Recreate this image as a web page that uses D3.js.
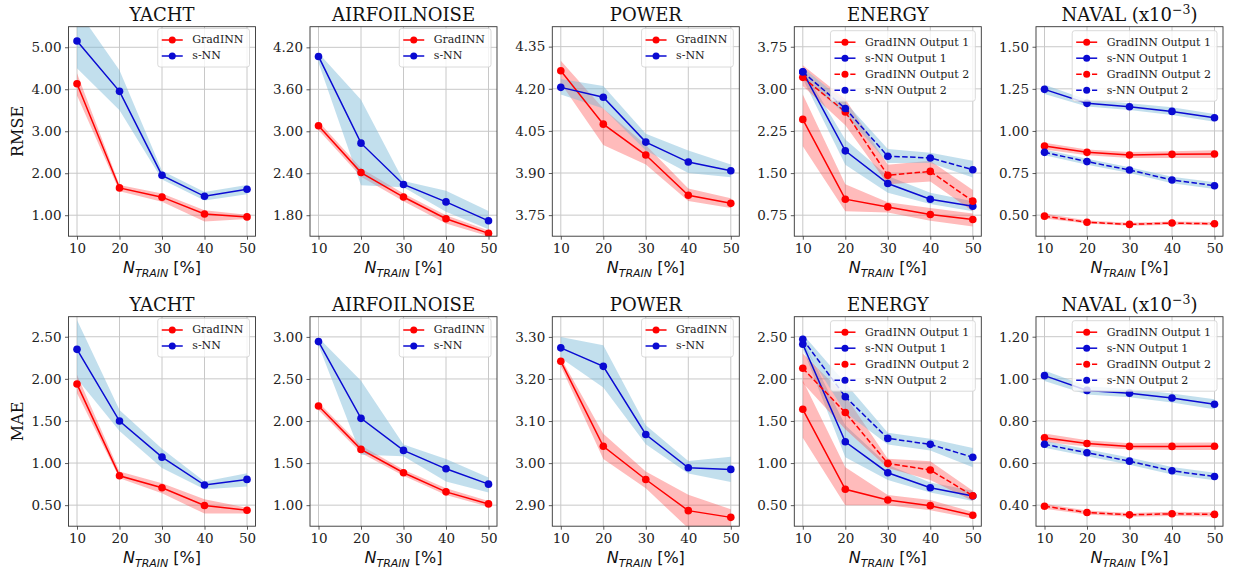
<!DOCTYPE html>
<html><head><meta charset="utf-8">
<script src="https://cdn.jsdelivr.net/npm/d3@7"></script>
<style>body{margin:0;background:#fff} svg{display:block}</style>
</head><body>
<svg id="c" width="1234" height="570"></svg>
<script>
// ---------- DATA ----------
const xValues = [10, 20, 30, 40, 50];
const datasets = ["YACHT", "AIRFOILNOISE", "POWER", "ENERGY", "NAVAL"];
const metrics = ["RMSE", "MAE"];

// RMSE ticks / domains
const rmseTicks = [[1,2,3,4,5],[1.8,2.4,3.0,3.6,4.2],[3.75,3.9,4.05,4.2,4.35],[0.75,1.5,2.25,3.0,3.75],[0.5,0.75,1.0,1.25,1.5]];
const rmseDomains = [[0.5,5.49],[1.5,4.495],[3.675,4.421],[0.376,4.107],[0.375,1.619]];
// MAE ticks / domains
const maeTicks = [[0.5,1.0,1.5,2.0,2.5],[1.0,1.5,2.0,2.5,3.0],[2.9,3.0,3.1,3.2,3.3],[0.5,1.0,1.5,2.0,2.5],[0.4,0.6,0.8,1.0,1.2]];
const maeDomains = [[0.25,2.738],[0.75,3.24],[2.85,3.348],[0.25,2.738],[0.30,1.295]];

// YACHT RMSE
const yachtRmseGrad   = [4.13,1.65,1.43,1.03,0.96];
const yachtRmseGradLo = [3.85,1.57,1.32,0.85,0.91];
const yachtRmseGradHi = [4.38,1.72,1.52,1.12,1.01];
const yachtRmseSnn    = [5.15,3.95,1.95,1.45,1.62];
const yachtRmseSnnLo  = [4.50,3.50,1.85,1.35,1.50];
const yachtRmseSnnHi  = [5.90,4.45,2.06,1.55,1.72];
// AIRFOIL RMSE
const airRmseGrad   = [3.08,2.41,2.06,1.75,1.54];
const airRmseGradLo = [3.02,2.35,2.00,1.68,1.50];
const airRmseGradHi = [3.14,2.47,2.11,1.80,1.58];
const airRmseSnn    = [4.07,2.83,2.24,1.99,1.72];
const airRmseSnnLo  = [3.98,2.23,2.20,1.85,1.60];
const airRmseSnnHi  = [4.12,3.45,2.29,2.15,1.86];
// POWER RMSE
const powRmseGrad   = [4.264,4.074,3.964,3.821,3.792];
const powRmseGradLo = [4.22,4.00,3.93,3.80,3.775];
const powRmseGradHi = [4.30,4.13,4.00,3.845,3.81];
const powRmseSnn    = [4.205,4.17,4.01,3.939,3.908];
const powRmseSnnLo  = [4.18,4.13,3.98,3.90,3.885];
const powRmseSnnHi  = [4.235,4.21,4.04,3.98,3.93];
// ENERGY RMSE
const enRmseG1 = [2.456,1.035,0.898,0.762,0.673], enRmseG1Lo = [1.98,0.82,0.80,0.65,0.55], enRmseG1Hi = [2.90,1.30,0.98,0.88,0.78];
const enRmseS1 = [3.304,1.896,1.314,1.035,0.91], enRmseS1Lo = [3.18,1.65,1.15,0.95,0.82], enRmseS1Hi = [3.36,2.10,1.45,1.15,1.00];
const enRmseG2 = [3.205,2.59,1.46,1.53,1.00],   enRmseG2Lo = [3.05,2.35,1.30,1.35,0.82], enRmseG2Hi = [3.42,2.82,1.65,1.72,1.20];
const enRmseS2 = [3.30,2.65,1.80,1.77,1.56],    enRmseS2Lo = [3.20,2.55,1.68,1.68,1.42], enRmseS2Hi = [3.38,2.76,1.93,1.86,1.72];
// NAVAL RMSE
const navRmseG1 = [0.910,0.873,0.857,0.861,0.863], navRmseG1Lo = [0.89,0.855,0.84,0.84,0.84], navRmseG1Hi = [0.93,0.89,0.875,0.88,0.885];
const navRmseS1 = [1.247,1.164,1.144,1.116,1.078], navRmseS1Lo = [1.22,1.145,1.125,1.095,1.055], navRmseS1Hi = [1.275,1.185,1.165,1.14,1.10];
const navRmseG2 = [0.494,0.458,0.445,0.453,0.449], navRmseG2Lo = [0.48,0.45,0.437,0.443,0.44], navRmseG2Hi = [0.51,0.468,0.455,0.463,0.46];
const navRmseS2 = [0.873,0.818,0.768,0.709,0.675], navRmseS2Lo = [0.855,0.80,0.75,0.69,0.655], navRmseS2Hi = [0.89,0.835,0.785,0.728,0.695];
// YACHT MAE
const yachtMaeGrad   = [1.938,0.849,0.706,0.496,0.44];
const yachtMaeGradLo = [1.83,0.82,0.64,0.40,0.40];
const yachtMaeGradHi = [2.05,0.90,0.76,0.57,0.47];
const yachtMaeSnn    = [2.35,1.499,1.07,0.739,0.806];
const yachtMaeSnnLo  = [2.00,1.38,0.94,0.69,0.72];
const yachtMaeSnnHi  = [2.70,1.63,1.17,0.78,0.88];
// AIRFOIL MAE
const airMaeGrad   = [2.179,1.663,1.385,1.158,1.015];
const airMaeGradLo = [2.13,1.62,1.35,1.12,0.98];
const airMaeGradHi = [2.22,1.71,1.42,1.20,1.05];
const airMaeSnn    = [2.944,2.032,1.651,1.432,1.25];
const airMaeSnnLo  = [2.90,1.60,1.58,1.28,1.15];
const airMaeSnnHi  = [2.99,2.48,1.72,1.55,1.33];
// POWER MAE
const powMaeGrad   = [3.242,3.04,2.961,2.887,2.871];
const powMaeGradLo = [3.23,3.01,2.94,2.845,2.845];
const powMaeGradHi = [3.25,3.07,2.98,2.925,2.89];
const powMaeSnn    = [3.274,3.23,3.068,2.989,2.985];
const powMaeSnnLo  = [3.25,3.18,3.045,2.975,2.955];
const powMaeSnnHi  = [3.30,3.28,3.09,3.005,3.015];
// ENERGY MAE
const enMaeG1 = [1.638,0.688,0.561,0.494,0.38], enMaeG1Lo = [1.30,0.50,0.50,0.44,0.34], enMaeG1Hi = [1.98,0.95,0.62,0.56,0.42];
const enMaeS1 = [2.41,1.253,0.885,0.707,0.608], enMaeS1Lo = [2.36,1.07,0.80,0.65,0.55], enMaeS1Hi = [2.46,1.45,0.98,0.77,0.67];
const enMaeG2 = [2.125,1.60,0.996,0.917,0.611], enMaeG2Lo = [1.95,1.40,0.94,0.80,0.55], enMaeG2Hi = [2.30,1.80,1.05,1.02,0.67];
const enMaeS2 = [2.47,1.787,1.293,1.222,1.068], enMaeS2Lo = [2.40,1.60,1.22,1.15,0.95], enMaeS2Hi = [2.53,1.95,1.36,1.29,1.18];
// NAVAL MAE
const navMaeG1 = [0.72,0.693,0.679,0.679,0.68],   navMaeG1Lo = [0.70,0.678,0.664,0.662,0.662], navMaeG1Hi = [0.74,0.708,0.694,0.696,0.698];
const navMaeS1 = [1.015,0.945,0.932,0.909,0.879], navMaeS1Lo = [0.99,0.925,0.912,0.888,0.855],  navMaeS1Hi = [1.04,0.965,0.952,0.93,0.903];
const navMaeG2 = [0.395,0.365,0.354,0.359,0.356], navMaeG2Lo = [0.383,0.356,0.345,0.349,0.346], navMaeG2Hi = [0.407,0.374,0.363,0.369,0.366];
const navMaeS2 = [0.689,0.649,0.609,0.563,0.536], navMaeS2Lo = [0.672,0.632,0.592,0.545,0.518], navMaeS2Hi = [0.706,0.666,0.626,0.581,0.554];

// ---------- STYLE / LAYOUT ----------
const RED = "#ff0000", BLUE = "#0a0ad2";
const BAND = { [RED]: "rgba(255,60,60,0.35)", [BLUE]: "rgba(120,185,215,0.45)" };
const colX = [68.5, 310, 552.3, 794.3, 1036];
const rowY = [26.7, 316.7];
const W = 187, H = 209.5;
const SERIF = "'DejaVu Serif', serif";

function two(g, gl, gh, s, sl, sh) {
  return [
    {name: "GradINN", color: RED, dash: null, mean: g, lo: gl, hi: gh},
    {name: "s-NN", color: BLUE, dash: null, mean: s, lo: sl, hi: sh}
  ];
}
function four(g1,g1l,g1h, s1,s1l,s1h, g2,g2l,g2h, s2,s2l,s2h) {
  return [
    {name: "GradINN Output 1", color: RED, dash: null, mean: g1, lo: g1l, hi: g1h},
    {name: "s-NN Output 1", color: BLUE, dash: null, mean: s1, lo: s1l, hi: s1h},
    {name: "GradINN Output 2", color: RED, dash: "5.5,2.4", mean: g2, lo: g2l, hi: g2h},
    {name: "s-NN Output 2", color: BLUE, dash: "5.5,2.4", mean: s2, lo: s2l, hi: s2h}
  ];
}

const seriesByPanel = [
  [
    two(yachtRmseGrad, yachtRmseGradLo, yachtRmseGradHi, yachtRmseSnn, yachtRmseSnnLo, yachtRmseSnnHi),
    two(airRmseGrad, airRmseGradLo, airRmseGradHi, airRmseSnn, airRmseSnnLo, airRmseSnnHi),
    two(powRmseGrad, powRmseGradLo, powRmseGradHi, powRmseSnn, powRmseSnnLo, powRmseSnnHi),
    four(enRmseG1,enRmseG1Lo,enRmseG1Hi, enRmseS1,enRmseS1Lo,enRmseS1Hi, enRmseG2,enRmseG2Lo,enRmseG2Hi, enRmseS2,enRmseS2Lo,enRmseS2Hi),
    four(navRmseG1,navRmseG1Lo,navRmseG1Hi, navRmseS1,navRmseS1Lo,navRmseS1Hi, navRmseG2,navRmseG2Lo,navRmseG2Hi, navRmseS2,navRmseS2Lo,navRmseS2Hi)
  ],
  [
    two(yachtMaeGrad, yachtMaeGradLo, yachtMaeGradHi, yachtMaeSnn, yachtMaeSnnLo, yachtMaeSnnHi),
    two(airMaeGrad, airMaeGradLo, airMaeGradHi, airMaeSnn, airMaeSnnLo, airMaeSnnHi),
    two(powMaeGrad, powMaeGradLo, powMaeGradHi, powMaeSnn, powMaeSnnLo, powMaeSnnHi),
    four(enMaeG1,enMaeG1Lo,enMaeG1Hi, enMaeS1,enMaeS1Lo,enMaeS1Hi, enMaeG2,enMaeG2Lo,enMaeG2Hi, enMaeS2,enMaeS2Lo,enMaeS2Hi),
    four(navMaeG1,navMaeG1Lo,navMaeG1Hi, navMaeS1,navMaeS1Lo,navMaeS1Hi, navMaeG2,navMaeG2Lo,navMaeG2Hi, navMaeS2,navMaeS2Lo,navMaeS2Hi)
  ]
];

const svg = d3.select("#c");
const x = d3.scaleLinear().domain([8, 52]).range([0, W]);

metrics.forEach((metric, r) => {
  const ticksAll = r === 0 ? rmseTicks : maeTicks;
  const domAll = r === 0 ? rmseDomains : maeDomains;
  datasets.forEach((ds, c) => {
    const series = seriesByPanel[r][c];
    const y = d3.scaleLinear().domain(domAll[c]).range([H, 0]);
    const g = svg.append("g").attr("transform", `translate(${colX[c]},${rowY[r]})`);
    const clipId = `clip-${r}-${c}`;
    g.append("clipPath").attr("id", clipId).append("rect").attr("width", W).attr("height", H);

    // grid
    const grid = g.append("g");
    grid.selectAll(".gx").data(xValues).enter().append("line")
      .attr("x1", d => x(d)).attr("x2", d => x(d)).attr("y1", 0).attr("y2", H)
      .attr("stroke", "#c8c8c8").attr("stroke-width", 1);
    grid.selectAll(".gy").data(ticksAll[c]).enter().append("line")
      .attr("y1", d => y(d)).attr("y2", d => y(d)).attr("x1", 0).attr("x2", W)
      .attr("stroke", "#c8c8c8").attr("stroke-width", 1);

    const plot = g.append("g").attr("clip-path", `url(#${clipId})`);
    const area = d3.area().x((d, i) => x(xValues[i])).y0(d => y(d[0])).y1(d => y(d[1]));
    const line = d3.line().x((d, i) => x(xValues[i])).y(d => y(d));

    series.forEach(s => {
      plot.append("path").datum(s.lo.map((v, i) => [v, s.hi[i]]))
        .attr("d", area).attr("fill", BAND[s.color]).attr("stroke", "none");
    });
    series.forEach(s => {
      plot.append("path").datum(s.mean).attr("d", line)
        .attr("fill", "none").attr("stroke", s.color).attr("stroke-width", 1.5)
        .attr("stroke-dasharray", s.dash);
      plot.selectAll(null).data(s.mean).enter().append("circle")
        .attr("cx", (d, i) => x(xValues[i])).attr("cy", d => y(d)).attr("r", 3.8)
        .attr("fill", s.color);
    });

    // axes
    const xa = g.append("g").attr("transform", `translate(0,${H})`)
      .call(d3.axisBottom(x).tickValues(xValues).tickSize(3.5).tickPadding(3.5).tickFormat(d3.format("d")));
    const ya = g.append("g")
      .call(d3.axisLeft(y).tickValues(ticksAll[c]).tickSize(3.5).tickPadding(3.5).tickFormat(d3.format(".2f")));
    [xa, ya].forEach(a => {
      a.select(".domain").remove();
      a.selectAll("line").attr("stroke", "#333").attr("stroke-width", 0.8);
      a.selectAll("text").attr("font-family", SERIF).attr("font-size", 13.5).attr("fill", "#222");
    });
    // frame
    g.append("rect").attr("width", W).attr("height", H).attr("fill", "none")
      .attr("stroke", "#333").attr("stroke-width", 0.9);

    // title
    const t = g.append("text").attr("x", W / 2).attr("y", -6).attr("text-anchor", "middle")
      .attr("font-family", SERIF).attr("font-size", 18).attr("fill", "#111");
    if (ds === "NAVAL") {
      t.append("tspan").text("NAVAL (x10");
      t.append("tspan").attr("dy", -7).attr("font-size", 12.5).text("−3");
      t.append("tspan").attr("dy", 7).text(")");
    } else t.text(ds);

    // y label
    if (c === 0) {
      g.append("text").attr("transform", `translate(-51,${H / 2}) rotate(-90)`)
        .attr("text-anchor", "middle").attr("dominant-baseline", "central")
        .attr("font-family", SERIF).attr("font-size", 16).attr("fill", "#111").text(metric);
    }
    // x label
    const xl = g.append("text").attr("x", W / 2).attr("y", H + 37).attr("text-anchor", "middle")
      .attr("font-family", "'DejaVu Sans', sans-serif").attr("font-size", 16).attr("fill", "#111");
    xl.append("tspan").attr("font-style", "italic").text("N");
    xl.append("tspan").attr("font-style", "italic").attr("font-size", 11).attr("dy", 3.5).text("TRAIN");
    xl.append("tspan").attr("dy", -3.5).text(" [%]");

    // legend
    const n = series.length;
    const leg = g.append("g");
    const top = n > 2 ? 4 : 1.8;
    const box = leg.append("rect").attr("y", top).attr("height", 11.5 + 16 * (n - 1) + 11)
      .attr("rx", 2.5).attr("fill", "rgba(255,255,255,0.8)").attr("stroke", "#d0d0d0").attr("stroke-width", 0.8);
    let maxW = 0;
    const items = series.map((s, i) => {
      const ig = leg.append("g");
      const yy = top + 11.5 + 16 * i;
      ig.append("line").attr("x1", 4).attr("x2", 25).attr("y1", yy).attr("y2", yy)
        .attr("stroke", s.color).attr("stroke-width", 1.5).attr("stroke-dasharray", s.dash);
      ig.append("circle").attr("cx", 14.5).attr("cy", yy).attr("r", 3.5).attr("fill", s.color);
      const tx = ig.append("text").attr("x", 34.5).attr("y", yy).attr("dominant-baseline", "central")
        .attr("font-family", SERIF).attr("font-size", 11).attr("fill", "#222").text(s.name);
      maxW = Math.max(maxW, tx.node().getComputedTextLength());
      return ig;
    });
    const bw = 34.5 + maxW + 6;
    box.attr("width", bw);
    leg.attr("transform", `translate(${W - 6 - bw},0)`);
  });
});
</script>
</body></html>
